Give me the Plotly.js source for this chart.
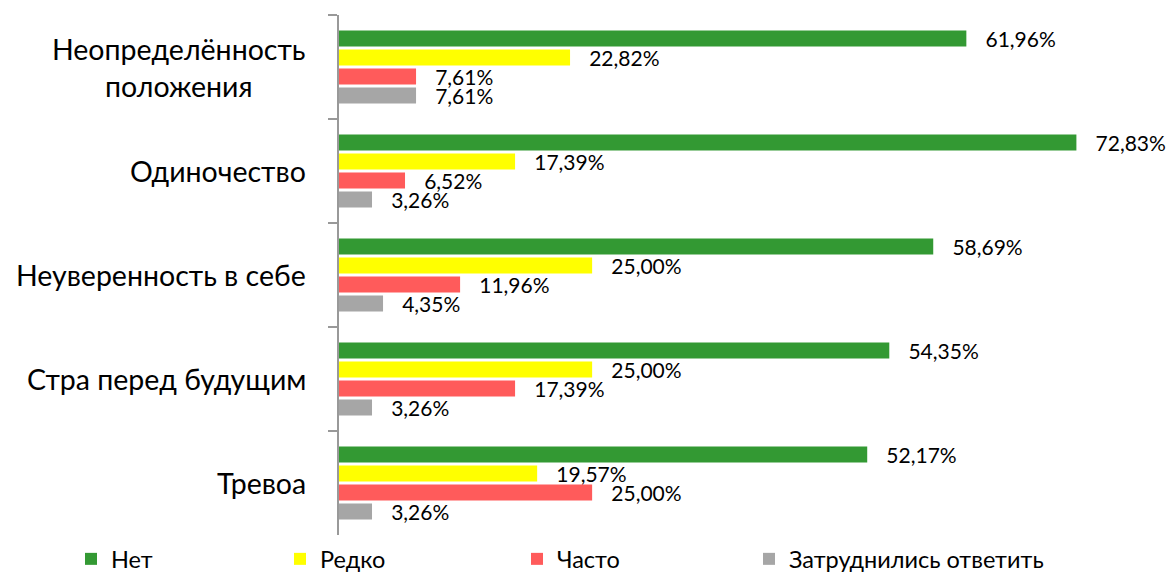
<!DOCTYPE html>
<html><head><meta charset="utf-8">
<script src="https://cdn.plot.ly/plotly-3.0.1.min.js"></script>
<style>body{margin:0;background:#fff}#c{width:1168px;height:579px}</style>
</head><body><div id="c"></div>
<script>
const categories = ["Неопределённость<br>положения", "Одиночество", "Неуверенность в себе", "Стра перед будущим", "Тревоа"];
const seriesNames = ["Нет", "Редко", "Часто", "Затруднились ответить"];
const net = [61.96, 72.83, 58.69, 54.35, 52.17];
const redko = [22.82, 17.39, 25.00, 25.00, 19.57];
const chasto = [7.61, 6.52, 11.96, 17.39, 25.00];
const zatr = [7.61, 3.26, 4.35, 3.26, 3.26];
const colors = ["#339933", "#FFFF00", "#FF5B5B", "#A6A6A6"];

const FONT = "Lato, 'Open Sans', sans-serif";
const legendIds = ["legend", "legend2", "legend3", "legend4"];
const legendX = [71, 280, 517, 749];
const fmt = v => "\u00a0\u00a0\u00a0" + v.toFixed(2).replace(".", ",") + "%";
const data = [net, redko, chasto, zatr].map((vals, i) => ({
  type: "bar", orientation: "h", name: seriesNames[i], legend: legendIds[i],
  y: categories, x: vals,
  text: vals.map(fmt), textposition: "outside", cliponaxis: false, constraintext: "none",
  textfont: {family: FONT, size: 21, color: "#000"},
  marker: {color: colors[i]}, hoverinfo: "none"
}));

const annotations = categories.map(c => ({
  xref: "paper", yref: "y", x: -0.038, y: c, xanchor: "right", yanchor: "middle",
  text: c, showarrow: false, align: "center",
  font: {family: FONT, size: 28.5, color: "#000"}
}));

const layout = {
  width: 1168, height: 579,
  margin: {l: 339, r: 19, t: 15, b: 44, autoexpand: false},
  paper_bgcolor: "#fff", plot_bgcolor: "#fff",
  barmode: "group", bargap: 0.27, bargroupgap: 0.15,
  showlegend: true,
  annotations: annotations,
  xaxis: {range: [0, 80], visible: false, fixedrange: true},
  yaxis: {autorange: "reversed", showticklabels: false, ticks: "outside", ticklen: 9, tickwidth: 2,
    tickcolor: "#999", tickson: "boundaries", showline: true, linecolor: "#999", linewidth: 2,
    showgrid: false, zeroline: false},
  font: {family: FONT}
};
legendIds.forEach((id, i) => {
  layout[id] = {orientation: "h", x: legendX[i] / 1168, xref: "container", y: -0.004, yanchor: "top",
    xanchor: "left", font: {family: FONT, size: 23.5, color: "#000"}, bgcolor: "rgba(0,0,0,0)"};
});
Plotly.newPlot("c", data, layout, {displayModeBar: false, staticPlot: true});
</script></body></html>
